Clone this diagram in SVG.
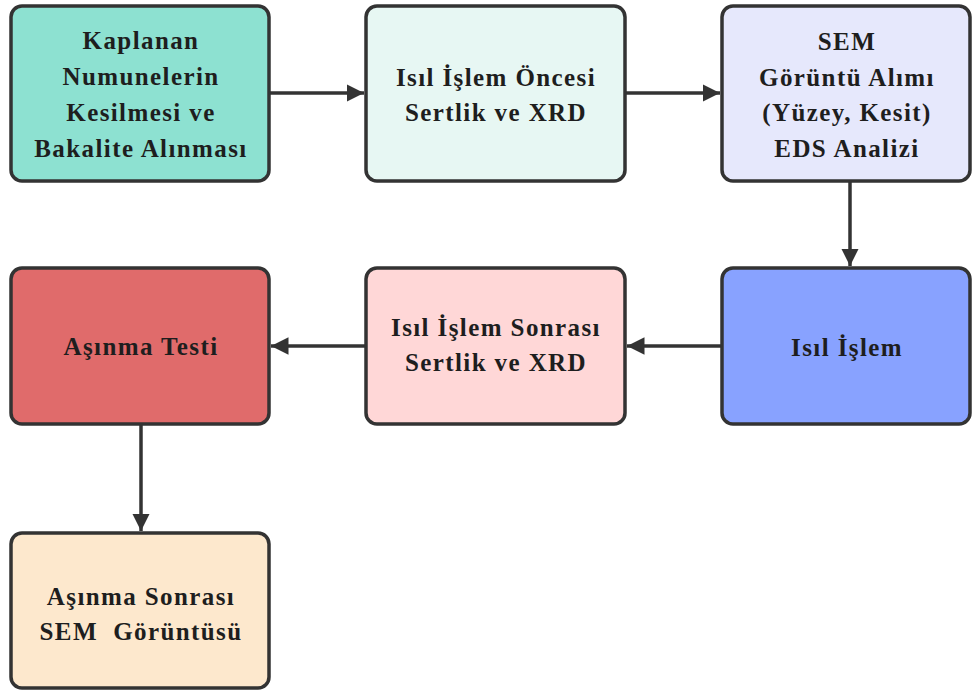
<svg xmlns="http://www.w3.org/2000/svg" width="973" height="693" viewBox="0 0 973 693">
  <style>
    .box { stroke: #333333; stroke-width: 3.5; }
    .lbl { font-family: "Liberation Serif", "DejaVu Serif", serif; font-weight: bold; font-size: 25px; letter-spacing: 1.4px; fill: #1e1e1e; text-anchor: middle; white-space: pre; }
    .edge { stroke: #333333; stroke-width: 3.5; fill: none; marker-end: url(#arrow); }
  </style>
  <defs>
    <marker id="arrow" viewBox="0 0 10 10" refX="10" refY="5" markerWidth="5" markerHeight="5" markerUnits="strokeWidth" orient="auto">
      <path d="M0,0 L10,5 L0,10 Z" fill="#333333"/>
    </marker>
  </defs>
  <rect width="973" height="693" fill="#ffffff"/>

  <g id="connectors">
    <line class="edge" x1="270" y1="93" x2="364" y2="93"/>
    <line class="edge" x1="626" y1="93" x2="720" y2="93"/>
    <line class="edge" x1="850" y1="182" x2="850" y2="266"/>
    <line class="edge" x1="721" y1="346" x2="627" y2="346"/>
    <line class="edge" x1="365" y1="346" x2="271" y2="346"/>
    <line class="edge" x1="141" y1="425" x2="141" y2="531"/>
  </g>

  <g id="n1">
    <rect class="box" x="11" y="6" width="258" height="175" rx="11" fill="#8de1d1"/>
    <text class="lbl" x="141" y="49">Kaplanan</text>
    <text class="lbl" x="141" y="85">Numunelerin</text>
    <text class="lbl" x="141" y="121">Kesilmesi ve</text>
    <text class="lbl" x="141" y="157">Bakalite Alınması</text>
  </g>

  <g id="n2">
    <rect class="box" x="366" y="6" width="259" height="175" rx="11" fill="#e7f7f3"/>
    <text class="lbl" x="496" y="86">Isıl İşlem Öncesi</text>
    <text class="lbl" x="496" y="121">Sertlik ve XRD</text>
  </g>

  <g id="n3">
    <rect class="box" x="722" y="6" width="248" height="175" rx="11" fill="#e6e8fc"/>
    <text class="lbl" x="847" y="50">SEM</text>
    <text class="lbl" x="847" y="86">Görüntü Alımı</text>
    <text class="lbl" x="847" y="121">(Yüzey, Kesit)</text>
    <text class="lbl" x="847" y="157">EDS Analizi</text>
  </g>

  <g id="n4">
    <rect class="box" x="722" y="268" width="248" height="156" rx="11" fill="#88a2ff"/>
    <text class="lbl" x="847" y="356">Isıl İşlem</text>
  </g>

  <g id="n5">
    <rect class="box" x="366" y="268" width="259" height="156" rx="11" fill="#ffd7d7"/>
    <text class="lbl" x="496" y="336">Isıl İşlem Sonrası</text>
    <text class="lbl" x="496" y="371">Sertlik ve XRD</text>
  </g>

  <g id="n6">
    <rect class="box" x="11" y="268" width="258" height="156" rx="11" fill="#e06b6b"/>
    <text class="lbl" x="141" y="355">Aşınma Testi</text>
  </g>

  <g id="n7">
    <rect class="box" x="11" y="533" width="258" height="155" rx="11" fill="#fde8cd"/>
    <text class="lbl" x="141" y="605">Aşınma Sonrası</text>
    <text class="lbl" x="141" y="640">SEM  Görüntüsü</text>
  </g>
</svg>
